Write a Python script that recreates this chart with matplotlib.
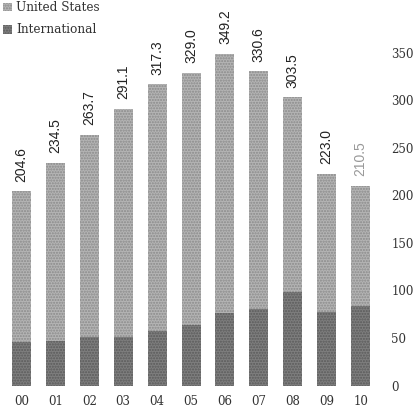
import numpy as np
import matplotlib
matplotlib.use("Agg")
import matplotlib.pyplot as plt
from matplotlib.patches import Patch

# Sales by region, fiscal years 2000-2010
years = ["00", "01", "02", "03", "04", "05", "06", "07", "08", "09", "10"]
totals = [204.6, 234.5, 263.7, 291.1, 317.3, 329.0, 349.2, 330.6, 303.5, 223.0, 210.5]
international = [46, 47, 51, 51, 57, 64, 76, 80.5, 98, 77, 84]
united_states = [t - i for t, i in zip(totals, international)]
yticks = [0, 50, 100, 150, 200, 250, 300, 350]

us_color = "#b4b4b4"
intl_color = "#7e7e7e"

fig = plt.figure(figsize=(4.2, 4.12), dpi=100)
ax = fig.add_axes([0.0, 0.0643, 0.905, 0.934])

x = np.arange(len(years))
ax.bar(x, international, width=0.56, color=intl_color, hatch="......",
       edgecolor="#5a5a5a", linewidth=0)
ax.bar(x, united_states, width=0.56, bottom=international, color=us_color,
       hatch="......", edgecolor="#8a8a8a", linewidth=0)

for i, t in enumerate(totals):
    col = "#999999" if i == len(totals) - 1 else "#222222"
    ax.text(x[i], t + 10, f"{t:.1f}", rotation=90, ha="center", va="bottom",
            fontsize=10, family="Liberation Sans", color=col)

ax.set_xlim(-0.634, 10.575)
ax.set_ylim(0, 405)
ax.set_xticks(x)
ax.set_xticklabels(years, family="DejaVu Serif", fontsize=8.5, color="#333333")
ax.set_yticks(yticks)
ax.set_yticklabels([str(v) for v in yticks], family="DejaVu Serif",
                   fontsize=8.5, color="#333333")
ax.yaxis.tick_right()
ax.tick_params(axis="y", length=0, pad=8)
ax.tick_params(axis="x", length=0, pad=7)
for s in ax.spines.values():
    s.set_visible(False)

handles = [Patch(facecolor=us_color, hatch="......", edgecolor="#8a8a8a", linewidth=0),
           Patch(facecolor=intl_color, hatch="......", edgecolor="#5a5a5a", linewidth=0)]
fig.legend(handles, ["United States", "International"], loc="upper left",
           bbox_to_anchor=(0.007, 0.997), frameon=False, handlelength=0.75,
           handleheight=0.75, handletextpad=0.35, labelspacing=0.75,
           borderaxespad=0.0, borderpad=0.0,
           prop={"family": "DejaVu Serif", "size": 8.7})
for t in fig.legends[0].get_texts():
    t.set_color("#333333")

fig.savefig("out.png", dpi=100)
